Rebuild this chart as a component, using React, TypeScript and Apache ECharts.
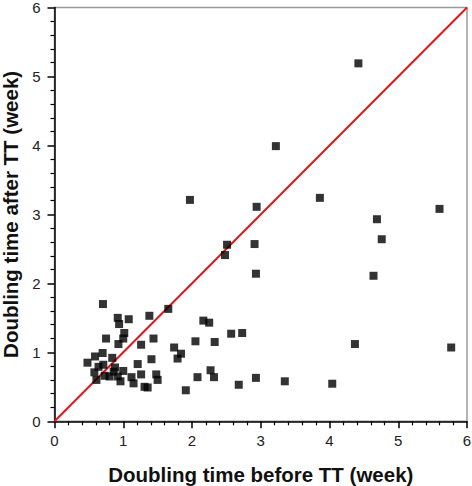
import React, { useEffect, useRef } from "react";
import * as echarts from "echarts";

const xBefore = [
  4.42, 3.22, 1.97, 2.94, 3.86, 5.6, 4.69, 4.76, 2.51, 2.48, 2.91, 2.93, 4.64, 4.37, 5.77, 4.04,
  1.655, 2.165, 2.25, 2.57, 2.73, 1.44, 2.05, 2.33, 1.74, 1.84, 1.79, 1.41, 2.27, 2.32, 2.08,
  1.48, 1.5, 1.91, 2.68, 2.93, 3.35, 0.705, 0.92, 0.94, 1.08, 1.38, 1.015, 1.0, 0.75, 0.93,
  1.26, 0.7, 0.59, 0.48, 0.84, 1.21, 0.64, 0.71, 0.58, 0.61, 0.73, 0.8, 0.86, 0.88, 1.0, 0.92,
  0.96, 1.12, 1.15, 1.26, 1.31, 1.355,
];
const yAfter = [
  5.19, 3.99, 3.21, 3.11, 3.24, 3.08, 2.93, 2.64, 2.56, 2.41, 2.57, 2.14, 2.11, 1.12, 1.07, 0.545,
  1.63, 1.46, 1.43, 1.27, 1.28, 1.2, 1.16, 1.15, 1.07, 0.98, 0.91, 0.9, 0.74, 0.64, 0.64,
  0.68, 0.6, 0.45, 0.53, 0.63, 0.58, 1.7, 1.5, 1.41, 1.48, 1.53, 1.28, 1.2, 1.2, 1.12,
  1.11, 0.99, 0.94, 0.85, 0.92, 0.83, 0.79, 0.82, 0.71, 0.6, 0.66, 0.65, 0.72, 0.78, 0.73, 0.65,
  0.58, 0.64, 0.55, 0.68, 0.5, 0.49,
];
const identityLine = [
  [0, 0],
  [6, 6],
];
const xName = "Doubling time before TT (week)";
const yName = "Doubling time after TT (week)";

export default function App() {
  const ref = useRef<HTMLDivElement>(null);
  useEffect(() => {
    if (!ref.current) return;
    const chart = echarts.init(ref.current, undefined, { renderer: "svg" });
    const font = "'Liberation Sans', Arial, sans-serif";
    const axisCommon = {
      type: "value",
      min: 0,
      max: 6,
      interval: 1,
      nameLocation: "middle",
      nameTextStyle: { fontFamily: font, fontSize: 20.5, fontWeight: "bold", color: "#111" },
      axisLine: { show: true, onZero: false, lineStyle: { color: "#000", width: 1.5 } },
      axisTick: { show: true, inside: false, length: 7, lineStyle: { color: "#000", width: 1.5 } },
      minorTick: { show: true, splitNumber: 5, length: 4, lineStyle: { color: "#000", width: 1.2 } },
      splitLine: { show: false },
      minorSplitLine: { show: false },
      axisLabel: { fontFamily: font, fontSize: 15, color: "#222" },
    };
    chart.setOption({
      animation: false,
      backgroundColor: "#fff",
      grid: {
        left: 54.5,
        right: 5,
        top: 7.5,
        bottom: 64.7,
        containLabel: false,
        outerBoundsMode: "none",
        show: true,
        borderColor: "#9a9a9a",
        borderWidth: 1.5,
        z: 0,
      },
      xAxis: {
        ...axisCommon,
        name: xName,
        nameGap: 43,
        axisLabel: { ...axisCommon.axisLabel, margin: 12 },
      },
      yAxis: {
        ...axisCommon,
        name: yName,
        nameGap: 27,
        axisLabel: { ...axisCommon.axisLabel, margin: 14 },
      },
      series: [
        {
          type: "line",
          data: identityLine,
          symbol: "none",
          lineStyle: { color: "#e0161b", width: 2 },
          z: 3,
        },
        {
          type: "scatter",
          data: xBefore.map((x, i) => [x, yAfter[i]]),
          symbol: "rect",
          symbolSize: 8,
          itemStyle: { color: "#000" },
          z: 4,
        },
      ],
    });
    return () => chart.dispose();
  }, []);
  return <div ref={ref} style={{ width: 472, height: 486, position: "absolute", left: 0, top: 0 }} />;
}
